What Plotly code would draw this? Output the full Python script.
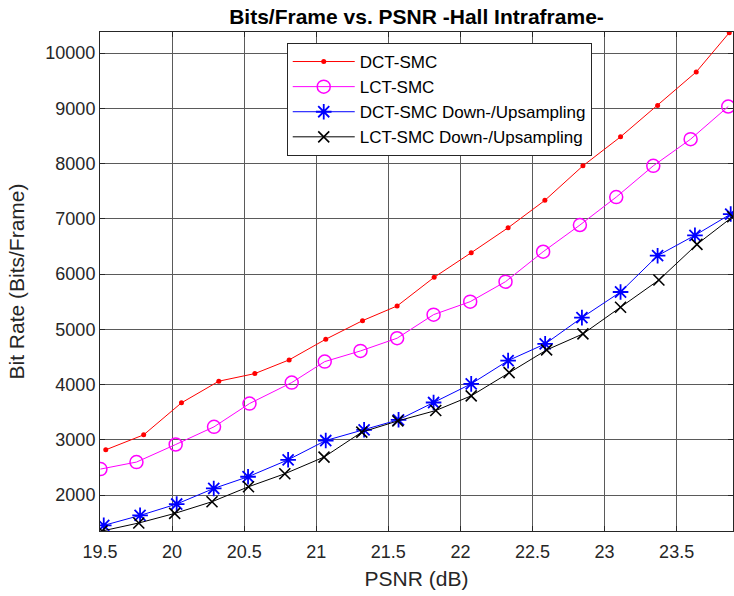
import plotly.graph_objects as go

# ---- data ----
dct_psnr = [19.540, 19.803, 20.065, 20.324, 20.574, 20.812, 21.066, 21.321, 21.561,
            21.818, 22.075, 22.331, 22.586, 22.850, 23.111, 23.368, 23.636, 23.865]
dct_bits = [2819, 3090, 3669, 4061, 4199, 4447, 4821, 5157, 5423,
            5942, 6387, 6839, 7335, 7960, 8485, 9052, 9660, 10370]

lct_psnr = [19.503, 19.753, 20.025, 20.291, 20.537, 20.830, 21.059, 21.307, 21.561,
            21.814, 22.068, 22.313, 22.574, 22.829, 23.081, 23.338, 23.597, 23.858]
lct_bits = [2470, 2597, 2915, 3235, 3656, 4036, 4416, 4609, 4839,
            5266, 5501, 5863, 6405, 6888, 7394, 7960, 8443, 9034]

dctd_psnr = [19.526, 19.778, 20.032, 20.289, 20.527, 20.805, 21.066, 21.332, 21.571,
             21.814, 22.075, 22.331, 22.588, 22.843, 23.111, 23.368, 23.627, 23.875]
dctd_bits = [1450, 1631, 1837, 2119, 2331, 2638, 2987, 3181, 3362,
             3675, 4013, 4434, 4736, 5212, 5676, 6333, 6702, 7087]

lctd_psnr = [19.514, 19.769, 20.018, 20.277, 20.530, 20.782, 21.054, 21.316, 21.566,
             21.829, 22.075, 22.338, 22.598, 22.850, 23.111, 23.377, 23.641, 23.889]
lctd_bits = [1349, 1494, 1667, 1879, 2150, 2385, 2687, 3139, 3342,
             3530, 3796, 4217, 4627, 4917, 5400, 5893, 6539, 7038]

x_ticks = [19.5, 20, 20.5, 21, 21.5, 22, 22.5, 23, 23.5]
x_tick_labels = ["19.5", "20", "20.5", "21", "21.5", "22", "22.5", "23", "23.5"]
y_ticks = [2000, 3000, 4000, 5000, 6000, 7000, 8000, 9000, 10000]
y_tick_labels = ["2000", "3000", "4000", "5000", "6000", "7000", "8000", "9000", "10000"]

FONT = "Liberation Sans, Arial, sans-serif"
TXT = "#262626"

fig = go.Figure()
fig.add_trace(go.Scatter(x=dct_psnr, y=dct_bits, name="DCT-SMC", mode="lines+markers",
                         line=dict(color="#ff0000", width=1),
                         marker=dict(symbol="circle", size=5, color="#ff0000")))
fig.add_trace(go.Scatter(x=lct_psnr, y=lct_bits, name="LCT-SMC", mode="lines+markers",
                         line=dict(color="#ff00ff", width=1),
                         marker=dict(symbol="circle-open", size=13, color="#ff00ff",
                                     line=dict(width=1.5, color="#ff00ff"))))
fig.add_trace(go.Scatter(x=dctd_psnr, y=dctd_bits, name="DCT-SMC Down-/Upsampling",
                         mode="lines+markers",
                         line=dict(color="#0000ff", width=1),
                         marker=dict(symbol="asterisk-open", size=13, color="#0000ff",
                                     line=dict(width=1.8, color="#0000ff"))))
fig.add_trace(go.Scatter(x=lctd_psnr, y=lctd_bits, name="LCT-SMC Down-/Upsampling",
                         mode="lines+markers",
                         line=dict(color="#000000", width=1),
                         marker=dict(symbol="x-thin-open", size=11, color="#000000",
                                     line=dict(width=1.6, color="#000000"))))

axis_common = dict(showgrid=True, gridcolor="#5a5a5a", gridwidth=1,
                   showline=True, linecolor="#262626", linewidth=1, mirror="ticks",
                   ticks="inside", ticklen=5, tickcolor="#262626",
                   zeroline=False, tickfont=dict(family=FONT, size=18, color=TXT))

fig.update_xaxes(range=[19.5, 23.891], tickvals=x_ticks, ticktext=x_tick_labels,
                 ticklabelstandoff=4,
                 title=dict(text="PSNR (dB)", font=dict(family=FONT, size=21, color=TXT),
                            standoff=10),
                 **axis_common)
fig.update_yaxes(range=[1349, 10383], tickvals=y_ticks, ticktext=y_tick_labels,
                 title=dict(text="Bit Rate (Bits/Frame)",
                            font=dict(family=FONT, size=21, color=TXT), standoff=14),
                 **axis_common)

fig.update_layout(
    width=734, height=596,
    margin=dict(l=100, r=1, t=32, b=65, autoexpand=False),
    paper_bgcolor="white", plot_bgcolor="white",
    title=dict(text="<b>Bits/Frame vs. PSNR -Hall Intraframe-</b>",
               font=dict(family=FONT, size=21, color="#000000"),
               x=(100 + 733) / 2 / 734, xanchor="center", y=0.972, yanchor="middle"),
    legend=dict(x=0.295, y=0.978, xanchor="left", yanchor="top",
                bgcolor="white", bordercolor="#262626", borderwidth=1,
                font=dict(family=FONT, size=17, color="#000000"),
                itemwidth=62, tracegroupgap=0),
    showlegend=True,
)

fig.write_html("out.html", config={"displayModeBar": False},
               post_script="document.body.style.margin='0';")
